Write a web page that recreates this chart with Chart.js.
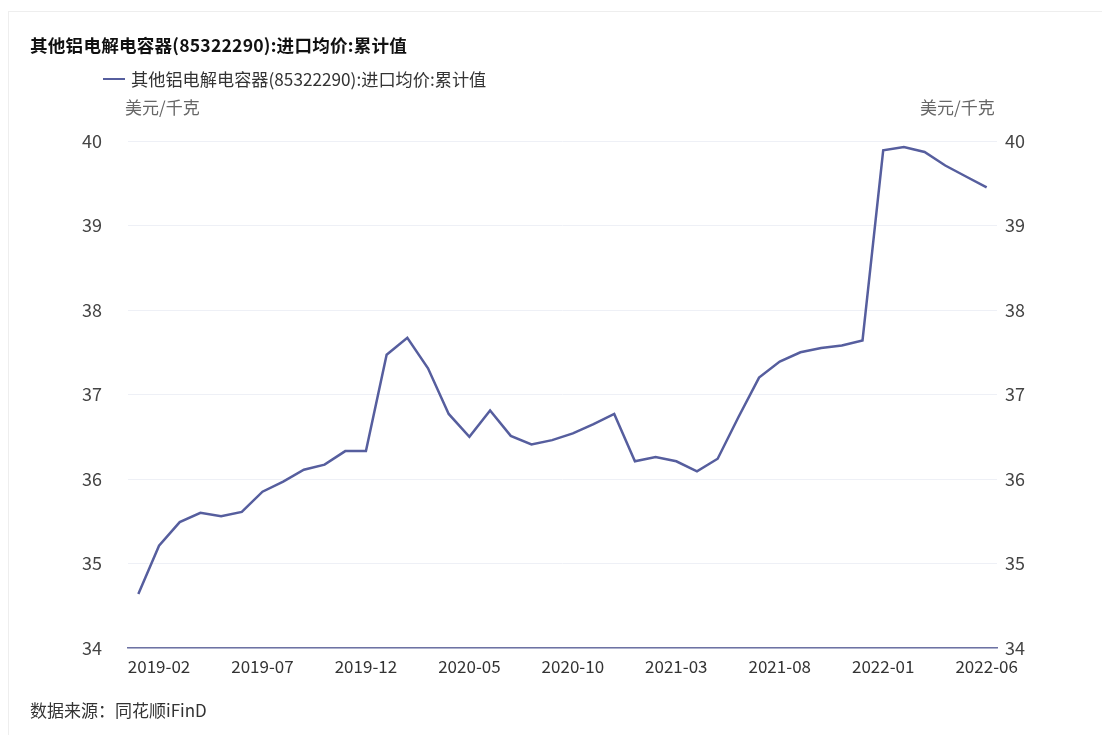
<!DOCTYPE html>
<html>
<head>
<meta charset="utf-8">
<script src="https://cdn.jsdelivr.net/npm/chart.js@4/dist/chart.umd.min.js"></script>
<style>
  html, body { margin: 0; padding: 0; background: #fff; }
  body { width: 1102px; height: 735px; position: relative; overflow: hidden;
         font-family: "Noto Sans CJK SC", "Noto Sans", sans-serif; color: #333; }
  .frame { position: absolute; left: 8px; top: 11px; right: -2px; bottom: -2px; border: 1px solid #eeeeee; }
  #chart { position: absolute; left: 0; top: 0; }
  .title { position: absolute; left: 30px; top: 33px; font-size: 17.6px; line-height: 24px; font-weight: bold; color: #111; letter-spacing: 0.2px; }
  .legend { position: absolute; left: 103px; top: 66px; font-size: 17.2px; line-height: 26px; color: #333; display: flex; align-items: center; }
  .legend i { display: inline-block; width: 22px; height: 2px; background: #565e9e; margin-right: 6px; }
  .unit { position: absolute; top: 95px; font-size: 17px; line-height: 24px; color: #666; }
  .source { position: absolute; left: 30px; top: 697px; font-size: 17px; line-height: 26px; color: #333; }
</style>
</head>
<body>
<div class="frame"></div>
<canvas id="chart" width="1102" height="735"></canvas>
<div class="title">其他铝电解电容器(85322290):进口均价:累计值</div>
<div class="legend"><i></i>其他铝电解电容器(85322290):进口均价:累计值</div>
<div class="unit" style="left:125px">美元/千克</div>
<div class="unit" style="left:920px">美元/千克</div>
<div class="source">数据来源：同花顺iFinD</div>
<script>
const seriesName = '其他铝电解电容器(85322290):进口均价:累计值';

const months = [
    '2019-01', '2019-02', '2019-03', '2019-04', '2019-05', '2019-06', '2019-07', '2019-08', '2019-09', '2019-10', '2019-11', '2019-12',
    '2020-01', '2020-02', '2020-03', '2020-04', '2020-05', '2020-06', '2020-07', '2020-08', '2020-09', '2020-10', '2020-11', '2020-12',
    '2021-01', '2021-02', '2021-03', '2021-04', '2021-05', '2021-06', '2021-07', '2021-08', '2021-09', '2021-10', '2021-11', '2021-12',
    '2022-01', '2022-02', '2022-03', '2022-04', '2022-05', '2022-06'
];

const avgPrice = [
    34.64, 35.21, 35.49, 35.60, 35.56, 35.61, 35.85, 35.97, 36.11, 36.17, 36.33, 36.33,
    37.47, 37.67, 37.31, 36.77, 36.50, 36.81, 36.51, 36.41, 36.46, 36.54, 36.65, 36.77,
    36.21, 36.26, 36.21, 36.09, 36.24, 36.73, 37.20, 37.39, 37.50, 37.55, 37.58, 37.64,
    39.89, 39.93, 39.87, 39.71, 39.58, 39.45
];

const yTicks = [34, 35, 36, 37, 38, 39, 40];

const tickFont = { family: '"Noto Sans CJK SC", sans-serif', size: 18 };

new Chart(document.getElementById('chart'), {
    type: 'line',
    data: {
        labels: months,
        datasets: [{
            label: seriesName,
            data: avgPrice,
            borderColor: '#565e9e',
            borderWidth: 2.5,
            pointRadius: 0,
            tension: 0,
            yAxisID: 'y'
        }, {
            // same series bound to the right axis so both scales stay in step
            label: seriesName,
            data: avgPrice,
            borderWidth: 0,
            pointRadius: 0,
            showLine: false,
            yAxisID: 'y1'
        }]
    },
    options: {
        responsive: false,
        animation: false,
        layout: { padding: { top: 141, left: 0, right: 0, bottom: 0 } },
        plugins: {
            legend: { display: false },
            tooltip: { enabled: false }
        },
        scales: {
            x: {
                offset: true,
                grid: { display: false },
                border: { display: true, color: '#6d72a3', width: 1.5 },
                ticks: {
                    autoSkip: false,
                    maxRotation: 0,
                    padding: 0,
                    color: '#333',
                    font: { family: '"Noto Sans CJK SC", sans-serif', size: 17 },
                    callback: (value, index) => (index % 5 === 1 ? months[index] : '')
                },
                afterFit: (axis) => { axis.height = 87; }
            },
            y: {
                position: 'left',
                min: yTicks[0],
                max: yTicks[yTicks.length - 1],
                afterBuildTicks: (axis) => { axis.ticks = yTicks.map(v => ({ value: v })); },
                grid: { color: '#eef0f6', drawTicks: false, lineWidth: 1 },
                border: { display: false },
                ticks: { color: '#444', font: tickFont, padding: 26 },
                afterFit: (axis) => { axis.width = 128; }
            },
            y1: {
                position: 'right',
                min: yTicks[0],
                max: yTicks[yTicks.length - 1],
                afterBuildTicks: (axis) => { axis.ticks = yTicks.map(v => ({ value: v })); },
                grid: { display: false, drawTicks: false },
                border: { display: false },
                ticks: { color: '#444', font: tickFont, padding: 8 },
                afterFit: (axis) => { axis.width = 105; }
            }
        }
    }
});
</script>
</body>
</html>
